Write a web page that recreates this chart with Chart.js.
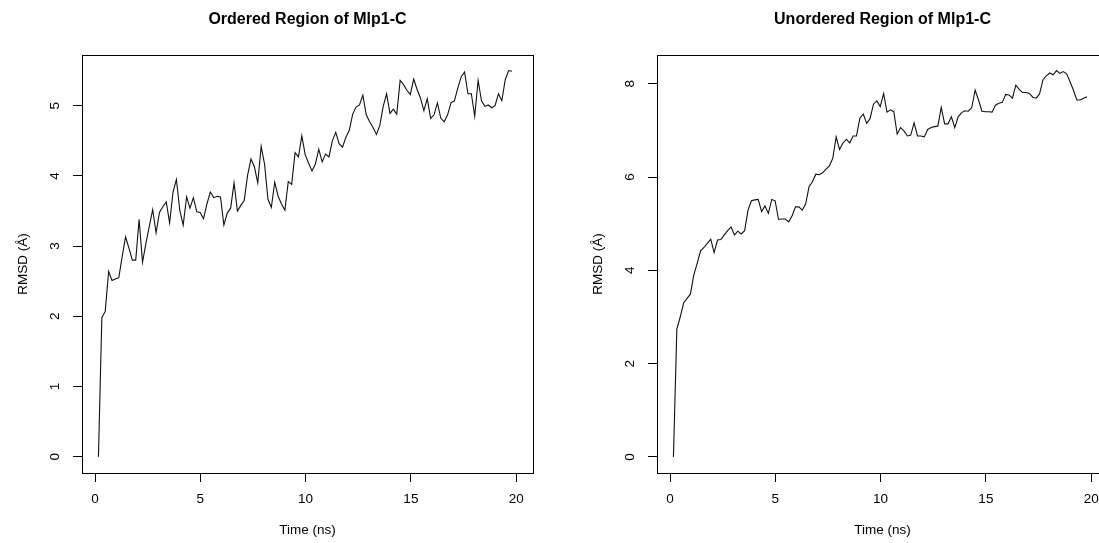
<!DOCTYPE html>
<html>
<head>
<meta charset="utf-8">
<title>RMSD of Mlp1-C regions</title>
<script src="https://cdn.jsdelivr.net/npm/chart.js@4.4.1/dist/chart.umd.min.js"></script>
<style>
  html, body { margin: 0; padding: 0; background: #fff; overflow: hidden; }
  #wrap { position: relative; width: 1099px; height: 543px; overflow: hidden; }
  .panel { position: absolute; top: 0; width: 575px; height: 543px; }
  #panelOrdered { left: 0; }
  #panelUnordered { left: 575px; }
</style>
</head>
<body>
<div id="wrap">
  <div class="panel" id="panelOrdered"><canvas id="chartOrdered" width="575" height="543"></canvas></div>
  <div class="panel" id="panelUnordered"><canvas id="chartUnordered" width="575" height="543"></canvas></div>
</div>
<script>
// trajectory frames, one every 0.161 ns
const timeStepNs = 0.161;

const orderedRmsd = [
  0, 1.98, 2.07, 2.64, 2.51, 2.53, 2.55, 2.85, 3.13, 2.97,
  2.80, 2.80, 3.38, 2.77, 3.04, 3.28, 3.52, 3.19, 3.48, 3.56,
  3.63, 3.33, 3.77, 3.95, 3.51, 3.30, 3.70, 3.54, 3.69, 3.49,
  3.48, 3.39, 3.60, 3.77, 3.69, 3.71, 3.70, 3.30, 3.47, 3.54,
  3.90, 3.50, 3.58, 3.65, 4.01, 4.24, 4.13, 3.90, 4.42, 4.17,
  3.67, 3.55, 3.91, 3.71, 3.60, 3.51, 3.92, 3.88, 4.33, 4.27,
  4.57, 4.30, 4.18, 4.07, 4.17, 4.38, 4.20, 4.31, 4.27, 4.50,
  4.62, 4.46, 4.41, 4.55, 4.65, 4.88, 4.98, 5.01, 5.15, 4.87,
  4.77, 4.69, 4.59, 4.72, 4.99, 5.17, 4.89, 4.95, 4.88, 5.36,
  5.30, 5.22, 5.16, 5.38, 5.23, 5.11, 4.93, 5.10, 4.82, 4.87,
  5.04, 4.82, 4.77, 4.87, 5.04, 5.07, 5.25, 5.41, 5.48, 5.17,
  5.17, 4.85, 5.36, 5.07, 4.99, 5.01, 4.97, 5.00, 5.17, 5.07,
  5.37, 5.50, 5.49
];

const unorderedRmsd = [
  0, 2.74, 3.00, 3.30, 3.40, 3.49, 3.90, 4.15, 4.42, 4.49,
  4.58, 4.67, 4.38, 4.65, 4.66, 4.76, 4.85, 4.93, 4.76, 4.84,
  4.78, 4.85, 5.29, 5.49, 5.51, 5.52, 5.26, 5.38, 5.22, 5.52,
  5.49, 5.09, 5.10, 5.10, 5.04, 5.17, 5.36, 5.36, 5.29, 5.42,
  5.79, 5.90, 6.06, 6.05, 6.09, 6.17, 6.24, 6.40, 6.86, 6.59,
  6.73, 6.81, 6.73, 6.88, 6.88, 7.26, 7.35, 7.15, 7.25, 7.56,
  7.63, 7.51, 7.79, 7.39, 7.44, 7.40, 6.92, 7.06, 6.99, 6.88,
  6.90, 7.16, 6.88, 6.88, 6.86, 7.02, 7.06, 7.08, 7.09, 7.49,
  7.14, 7.14, 7.29, 7.06, 7.29, 7.38, 7.42, 7.41, 7.49, 7.86,
  7.65, 7.41, 7.40, 7.40, 7.39, 7.54, 7.58, 7.60, 7.77, 7.76,
  7.69, 7.97, 7.88, 7.81, 7.81, 7.79, 7.71, 7.69, 7.78, 8.08,
  8.17, 8.23, 8.19, 8.28, 8.22, 8.26, 8.21, 8.04, 7.86, 7.65,
  7.65, 7.69, 7.72
];

const timeNs = orderedRmsd.map((_, i) => +((i + 1) * timeStepNs).toFixed(3));

const timeTicks = [0, 5, 10, 15, 20];
const orderedTicks = [0, 1, 2, 3, 4, 5];
const unorderedTicks = [0, 2, 4, 6, 8];

const FONT = '"Liberation Sans", Arial, Helvetica, sans-serif';
const LABEL_SIZE = 13.5;
Chart.defaults.font.family = FONT;
Chart.defaults.color = '#000';

// box, titles and the vertical y tick labels (R base-graphics look)
const panelDecor = {
  id: 'panelDecor',
  afterDraw(chart, args, opts) {
    const { ctx, chartArea: a, scales } = chart;
    ctx.save();
    ctx.strokeStyle = '#000';
    ctx.lineWidth = 1;
    ctx.strokeRect(Math.round(a.left) + 0.5, Math.round(a.top) + 0.5,
      Math.round(a.right - a.left), Math.round(a.bottom - a.top));

    ctx.fillStyle = '#000';
    ctx.textAlign = 'center';
    ctx.textBaseline = 'middle';
    const cx = (a.left + a.right) / 2;

    ctx.font = 'bold 16px ' + FONT;
    ctx.fillText(opts.title, cx, 20);

    ctx.font = LABEL_SIZE + 'px ' + FONT;
    ctx.fillText(opts.xTitle, cx, 530);

    const ys = scales.y;
    ys.ticks.forEach(t => {
      ctx.save();
      ctx.translate(a.left - 27, ys.getPixelForValue(t.value));
      ctx.rotate(-Math.PI / 2);
      ctx.fillText(String(t.value), 0, 0);
      ctx.restore();
    });

    ctx.save();
    ctx.translate(23, (a.top + a.bottom) / 2);
    ctx.rotate(-Math.PI / 2);
    ctx.fillText(opts.yTitle, 0, 0);
    ctx.restore();

    ctx.restore();
  }
};

function buildChart(canvasId, values, yTicks, yMin, yMax, title) {
  const points = timeNs.map((t, i) => ({ x: t, y: values[i] }));
  return new Chart(document.getElementById(canvasId), {
    type: 'line',
    data: {
      datasets: [{
        data: points,
        borderColor: '#111',
        borderWidth: 1.1,
        pointRadius: 0,
        tension: 0,
        fill: false
      }]
    },
    options: {
      responsive: false,
      animation: false,
      events: [],
      layout: { autoPadding: false, padding: { left: 0, top: 55, right: 42, bottom: 0 } },
      plugins: {
        legend: { display: false },
        tooltip: { enabled: false },
        panelDecor: { title: title, xTitle: 'Time (ns)', yTitle: 'RMSD (Å)' }
      },
      scales: {
        x: {
          type: 'linear',
          min: -0.62,
          max: 20.8,
          afterBuildTicks: s => { s.ticks = timeTicks.map(v => ({ value: v })); },
          afterFit: s => { s.height = 70; },
          border: { display: false },
          grid: { drawOnChartArea: false, drawTicks: true, tickLength: 9, color: '#000', lineWidth: 1 },
          ticks: { font: { size: LABEL_SIZE }, color: '#000', padding: 9, maxRotation: 0, minRotation: 0 }
        },
        y: {
          type: 'linear',
          min: yMin,
          max: yMax,
          afterBuildTicks: s => { s.ticks = yTicks.map(v => ({ value: v })); },
          afterFit: s => { s.width = 82; },
          border: { display: false },
          grid: { drawOnChartArea: false, drawTicks: true, tickLength: 9, color: '#000', lineWidth: 1 },
          ticks: { display: false }
        }
      }
    },
    plugins: [panelDecor]
  });
}

buildChart('chartOrdered', orderedRmsd, orderedTicks, -0.232, 5.722, 'Ordered Region of Mlp1-C');
buildChart('chartUnordered', unorderedRmsd, unorderedTicks, -0.343, 8.615, 'Unordered Region of Mlp1-C');
</script>
</body>
</html>
